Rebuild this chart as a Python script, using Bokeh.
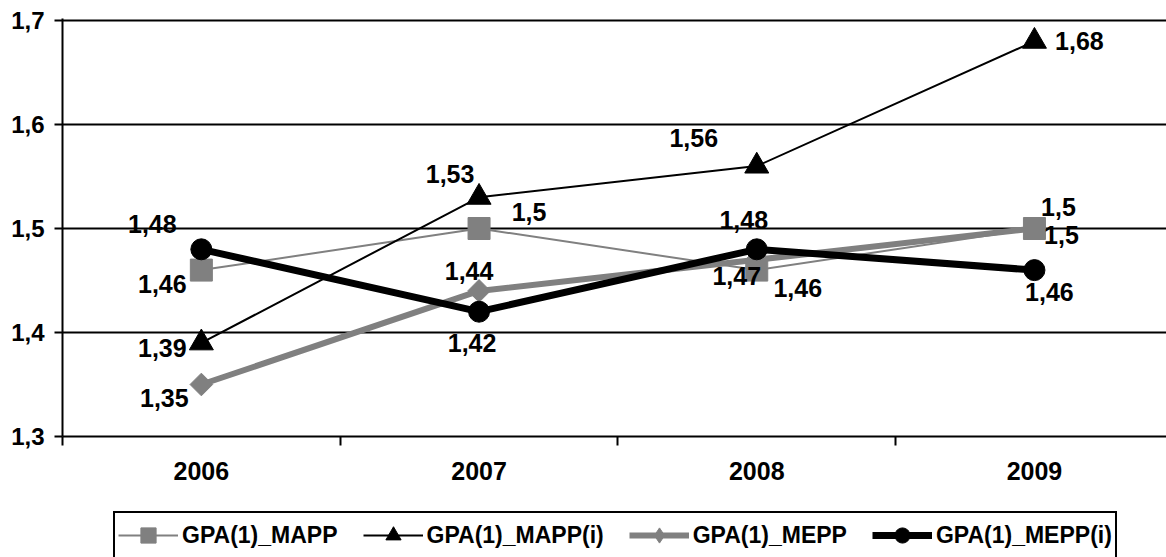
from bokeh.plotting import figure
from bokeh.layouts import column
from bokeh.models import (Range1d, FixedTicker, CustomJSTickFormatter, Legend,
                          LegendItem, ColumnDataSource)
from bokeh.core.properties import value
from bokeh.embed import file_html
from bokeh.resources import INLINE
import numpy as np

# ---- data -------------------------------------------------------------
years = ["2006", "2007", "2008", "2009"]
series_names = ["GPA(1)_MAPP", "GPA(1)_MAPP(i)", "GPA(1)_MEPP", "GPA(1)_MEPP(i)"]
gpa_mapp = [1.46, 1.50, 1.46, 1.50]
gpa_mapp_i = [1.39, 1.53, 1.56, 1.68]
gpa_mepp = [1.35, 1.44, 1.47, 1.50]
gpa_mepp_i = [1.48, 1.42, 1.48, 1.46]
y_ticks = [1.3, 1.4, 1.5, 1.6, 1.7]

# ---- styling ----------------------------------------------------------
FONT = "Liberation Sans"
FS = "25px"
Y_FS = "24px"
LEG_FS = "23px"
GRAY = "#808080"

# label offsets in screen pixels (+x right, +y down), one per point
label_offsets = [
    [(-39, 14), (50, -17), (41, 18), (24, -22)],    # MAPP
    [(-39, 5), (-29, -23), (-63, -28), (45, 0)],    # MAPP(i)
    [(-37, 13), (-10, -20), (-20, 16), (27, 6)],    # MEPP
    [(-49, -25), (-7, 31), (-13, -29), (15, 22)],   # MEPP(i)
]

# chart markers; the legend uses its own marker shape (legend_marker)
styles = [
    dict(color=GRAY, lw=2, marker="square", size=22, angle=0.0, legend_marker="square"),
    dict(color="black", lw=2, marker="triangle", size=24, angle=0.0, legend_marker="triangle"),
    dict(color=GRAY, lw=6, marker="square", size=16, angle=np.pi / 4, legend_marker="diamond"),
    dict(color="black", lw=7, marker="circle", size=21, angle=0.0, legend_marker="circle"),
]

W = 1166
H_CHART, H_LEG = 500, 57
LEFT, TOP, BOTTOM = 62, 18, 64
PX_PER_UNIT = 1040.0      # vertical pixels per 1.0 of GPA
CAT_W = 277.7             # horizontal pixels per year

frame_h = H_CHART - TOP - BOTTOM
frame_w = W - LEFT

p = figure(width=W, height=H_CHART, output_backend="svg", toolbar_location=None,
           x_range=Range1d(-0.5, -0.5 + frame_w / CAT_W),
           y_range=Range1d(1.3, 1.3 + frame_h / PX_PER_UNIT),
           min_border_left=LEFT, min_border_right=0,
           min_border_top=TOP, min_border_bottom=BOTTOM)
p.outline_line_color = None
p.background_fill_color = "white"
p.border_fill_color = "white"

# y axis
p.yaxis.ticker = FixedTicker(ticks=y_ticks)
p.yaxis.formatter = CustomJSTickFormatter(code="return tick.toFixed(1).replace('.', ',');")
p.yaxis.axis_line_color = "black"
p.yaxis.axis_line_width = 2
p.yaxis.major_tick_line_color = "black"
p.yaxis.major_tick_line_width = 2
p.yaxis.major_tick_out = 8
p.yaxis.major_tick_in = 0
p.yaxis.minor_tick_line_color = None
p.yaxis.major_label_standoff = 10
p.yaxis.major_label_text_font = FONT
p.yaxis.major_label_text_font_style = "bold"
p.yaxis.major_label_text_font_size = Y_FS
p.yaxis.major_label_text_color = "black"

# x axis: year labels at category centres, tick marks on category borders
xs = list(range(len(years)))
p.xaxis.ticker = FixedTicker(ticks=xs, minor_ticks=[i - 0.5 for i in range(len(years) + 1)])
p.xaxis.major_label_overrides = {i: y for i, y in enumerate(years)}
p.xaxis.axis_line_color = "black"
p.xaxis.axis_line_width = 2
p.xaxis.major_tick_line_color = None
p.xaxis.minor_tick_line_color = "black"
p.xaxis.minor_tick_line_width = 2
p.xaxis.minor_tick_out = 9
p.xaxis.minor_tick_in = 0
p.xaxis.major_label_standoff = 16
p.xaxis.major_label_text_font = FONT
p.xaxis.major_label_text_font_style = "bold"
p.xaxis.major_label_text_font_size = FS
p.xaxis.major_label_text_color = "black"

p.xgrid.grid_line_color = None
p.ygrid.ticker = FixedTicker(ticks=y_ticks)
p.ygrid.grid_line_color = "black"
p.ygrid.grid_line_width = 2

# ---- legend strip below the chart (frame aligned with the chart's) -------
leg = figure(width=W, height=H_LEG, output_backend="svg", toolbar_location=None,
             x_range=Range1d(0, 1), y_range=Range1d(0, 1),
             x_axis_type=None, y_axis_type=None,
             min_border_left=0, min_border_right=0, min_border_top=0, min_border_bottom=0)
leg.outline_line_color = None
leg.xgrid.grid_line_color = None
leg.ygrid.grid_line_color = None
leg.background_fill_color = "white"
leg.border_fill_color = "white"

# ---- series -----------------------------------------------------------
all_series = [gpa_mapp, gpa_mapp_i, gpa_mepp, gpa_mepp_i]
items = []
lx, ly, ltext, ldx, ldy = [], [], [], [], []
for name, vals, st, offs in zip(series_names, all_series, styles, label_offsets):
    src = ColumnDataSource(dict(x=xs, y=vals))
    p.line("x", "y", source=src, line_color=st["color"], line_width=st["lw"],
           line_join="round")
    p.scatter("x", "y", source=src, marker=st["marker"], size=st["size"],
              angle=st["angle"], fill_color=st["color"], line_color=st["color"],
              line_width=1)
    # copies in the legend strip sit outside its view and only feed the legend
    lr = leg.line("x", "y", source=src, line_color=st["color"], line_width=st["lw"])
    mr = leg.scatter("x", "y", source=src, marker=st["legend_marker"], size=st["size"],
                     fill_color=st["color"], line_color=st["color"], line_width=1)
    items.append(LegendItem(label=name, renderers=[lr, mr]))
    for x, v, (dx, dy) in zip(xs, vals, offs):
        lx.append(x)
        ly.append(v)
        ltext.append(f"{v:.2f}".rstrip("0").rstrip(".").replace(".", ","))
        ldx.append(dx)
        ldy.append(dy)

labels = ColumnDataSource(dict(x=lx, y=ly, text=ltext, dx=ldx, dy=ldy))
p.text(x="x", y="y", text="text", source=labels, x_offset="dx", y_offset="dy",
       text_font=value(FONT), text_font_style="bold", text_font_size=FS,
       text_align="center", text_baseline="middle", text_color="black")

LEG_BOX_H = 44
LEG_TOP = 15
legend = Legend(items=items, orientation="horizontal",
                location=(113 - LEFT, H_LEG - LEG_TOP - LEG_BOX_H),
                label_text_font=FONT, label_text_font_style="bold",
                label_text_font_size=LEG_FS, label_text_color="black",
                label_standoff=4,
                glyph_width=60, glyph_height=38, spacing=25, padding=3,
                margin=0, border_line_color="black", border_line_alpha=1.0,
                border_line_width=2,
                background_fill_color="white", background_fill_alpha=1.0)
leg.add_layout(legend, "center")

layout = column(p, leg, spacing=0)
open("out.html", "w").write(file_html(layout, INLINE))
